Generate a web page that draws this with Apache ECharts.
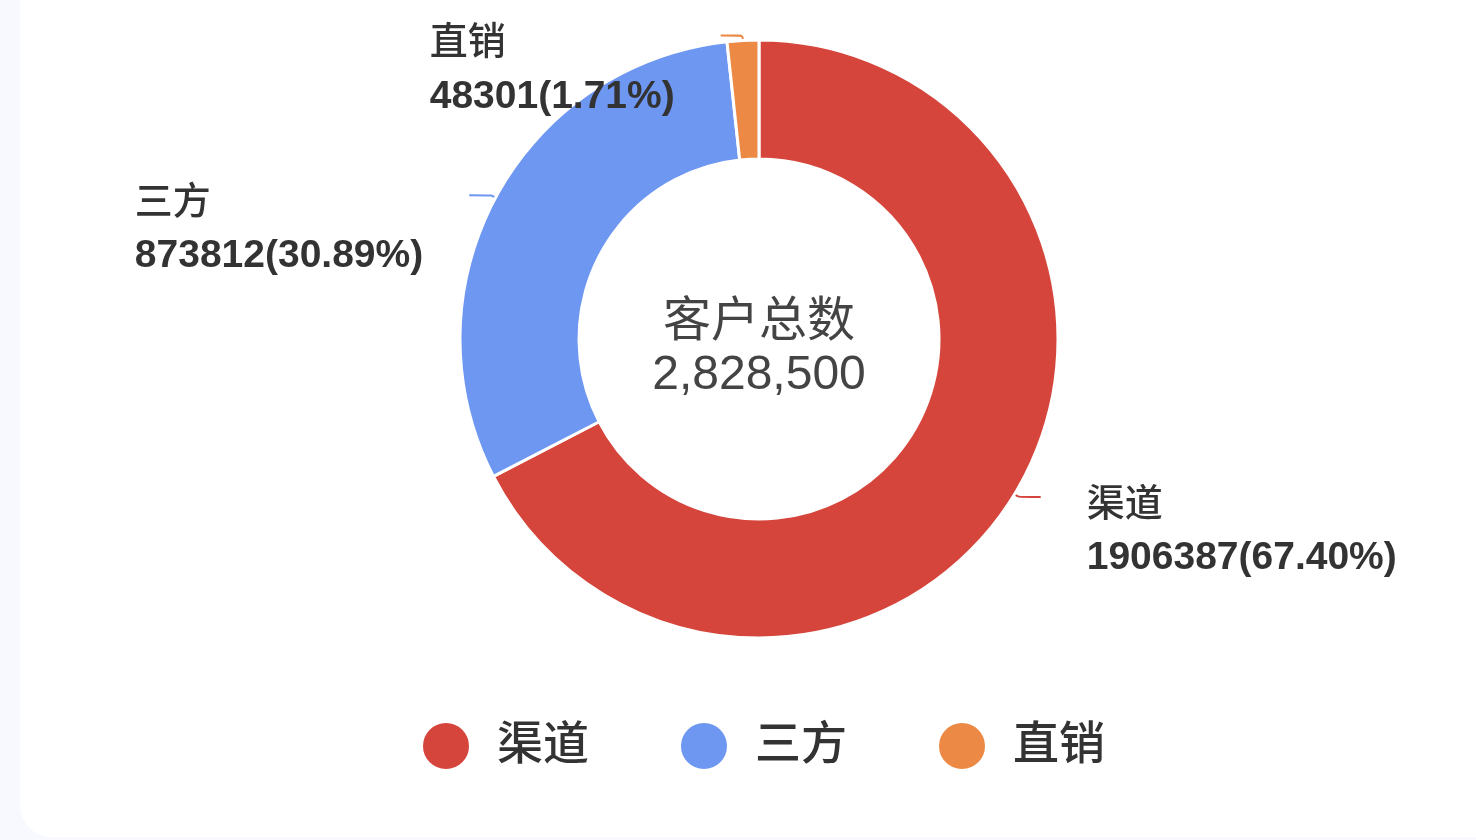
<!DOCTYPE html>
<html>
<head>
<meta charset="utf-8">
<script src="https://cdn.jsdelivr.net/npm/echarts@6/dist/echarts.min.js"></script>
<style>
  html, body { margin: 0; padding: 0; background: #f7f9fe; }
  .card {
    position: absolute; left: 20px; top: 0; width: 1456px; height: 837px;
    background: #fff; border-bottom-left-radius: 32px;
  }
  #main { position: absolute; left: -20px; top: 0; width: 1476px; height: 840px; }
</style>
</head>
<body>
<div class="card"><div id="main"></div></div>
<script>
// 客户来源
const names = ['渠道', '三方', '直销'];
const values = [1906387, 873812, 48301];
const colors = ['#d6453b', '#6e97f2', '#ec8a45'];

const total = values.reduce((a, b) => a + b, 0);
const font = '"Liberation Sans", Arial, "Noto Sans CJK SC", sans-serif';

const chart = echarts.init(document.getElementById('main'), null, { renderer: 'canvas' });

const option = {
  animation: false,
  color: colors,
  legend: {
    data: names,
    left: 416,
    top: 716,
    icon: 'circle',
    itemWidth: 48,
    itemHeight: 48,
    itemGap: 90,
    textStyle: {
      fontFamily: font,
      fontSize: 46,
      fontWeight: 500,
      color: '#333',
      padding: [0, 0, 0, 22]
    }
  },
  graphic: [{
    type: 'text',
    x: 759,
    y: 349,
    style: {
      text: '客户总数\n' + total.toLocaleString('en-US'),
      fontFamily: font,
      fontSize: 48,
      lineHeight: 53,
      fill: '#444',
      align: 'center',
      verticalAlign: 'middle'
    }
  }],
  series: [{
    type: 'pie',
    center: [759, 339],
    radius: [180, 299],
    startAngle: 90,
    clockwise: true,
    itemStyle: {
      borderColor: '#fff',
      borderWidth: 3
    },
    label: {
      show: true,
      formatter: p => '{n|' + p.name + '}\n{v|' + p.value + '(' + (p.value / total * 100).toFixed(2) + '%)}',
      distanceToLabelLine: 46,
      padding: [70, 0, 0, 0],
      color: '#333',
      rich: {
        n: { fontFamily: font, fontSize: 38, fontWeight: 500, lineHeight: 53, color: '#333', align: 'left' },
        v: { fontFamily: font, fontSize: 39, fontWeight: 'bold', lineHeight: 53, color: '#333', align: 'left' }
      }
    },
    labelLine: {
      show: true,
      length: 5,
      length2: 22,
      smooth: true,
      lineStyle: { width: 2 }
    },
    data: names.map((n, i) => ({ name: n, value: values[i] }))
  }]
};

chart.setOption(option);
</script>
</body>
</html>
